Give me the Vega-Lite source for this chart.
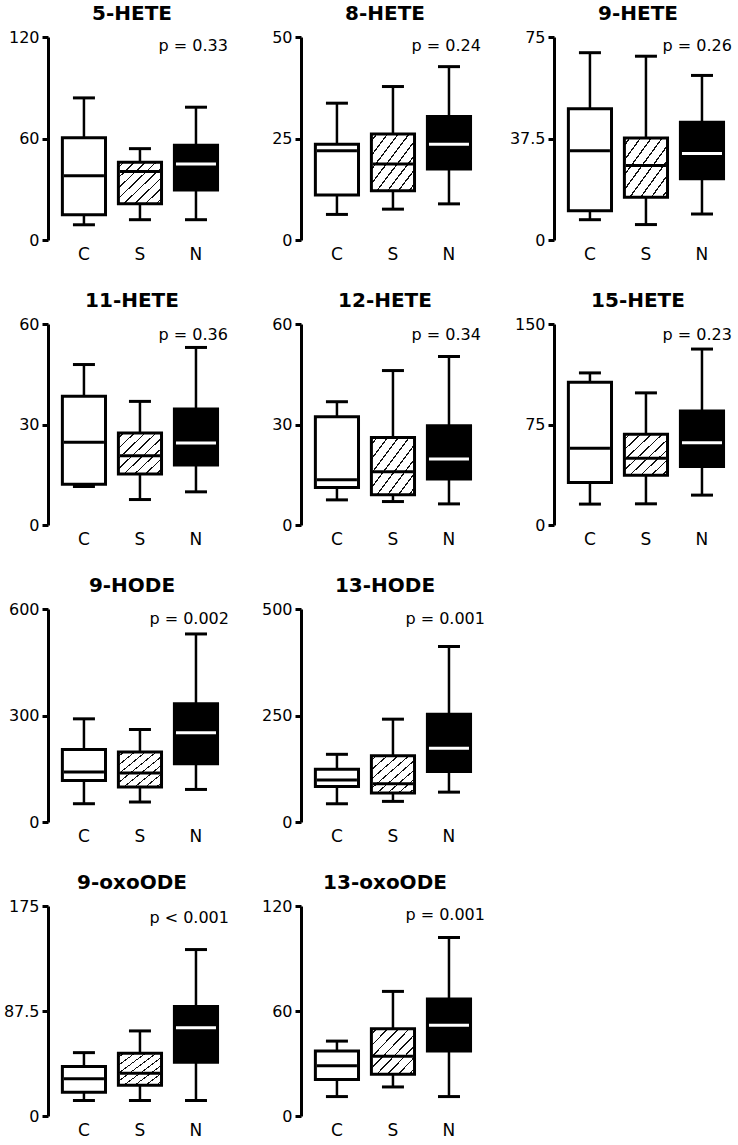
{
"$schema": "https://vega.github.io/schema/vega-lite/v6.json",
"padding": {"left": 3, "top": 4, "right": 0, "bottom": 0},
"background": "white",
"data": {"values": [
{"panel":"5-HETE","g":"C","lo":9,"q1":15,"med":38,"q3":60.5,"hi":84},
{"panel":"5-HETE","g":"S","lo":12,"q1":21.5,"med":40.5,"q3":46,"hi":54},
{"panel":"5-HETE","g":"N","lo":12,"q1":29.5,"med":45,"q3":56,"hi":78.5},
{"panel":"8-HETE","g":"C","lo":6.3,"q1":11.1,"med":22,"q3":23.6,"hi":33.7},
{"panel":"8-HETE","g":"S","lo":7.6,"q1":12.1,"med":18.7,"q3":26.1,"hi":37.8},
{"panel":"8-HETE","g":"N","lo":8.9,"q1":17.5,"med":23.6,"q3":30.4,"hi":42.7},
{"panel":"9-HETE","g":"C","lo":7.5,"q1":10.8,"med":33,"q3":48.5,"hi":69.2},
{"panel":"9-HETE","g":"S","lo":5.7,"q1":15.8,"med":27.5,"q3":37.7,"hi":67.9},
{"panel":"9-HETE","g":"N","lo":9.6,"q1":22.6,"med":32,"q3":43.5,"hi":60.8},
{"panel":"11-HETE","g":"C","lo":11.5,"q1":12.2,"med":24.7,"q3":38.4,"hi":47.9},
{"panel":"11-HETE","g":"S","lo":7.6,"q1":15.2,"med":20.7,"q3":27.5,"hi":36.9},
{"panel":"11-HETE","g":"N","lo":9.9,"q1":17.9,"med":24.5,"q3":34.6,"hi":53},
{"panel":"12-HETE","g":"C","lo":7.5,"q1":11.2,"med":13.5,"q3":32.3,"hi":36.8},
{"panel":"12-HETE","g":"S","lo":7,"q1":9,"med":15.9,"q3":26.1,"hi":46.1},
{"panel":"12-HETE","g":"N","lo":6.3,"q1":13.7,"med":19.7,"q3":29.6,"hi":50.3},
{"panel":"15-HETE","g":"C","lo":15.6,"q1":31.7,"med":57.3,"q3":106.6,"hi":113.5},
{"panel":"15-HETE","g":"S","lo":15.8,"q1":37.2,"med":49.8,"q3":67.7,"hi":98.6},
{"panel":"15-HETE","g":"N","lo":22.3,"q1":43.6,"med":61.4,"q3":85,"hi":131.3},
{"panel":"9-HODE","g":"C","lo":51.5,"q1":117,"med":140.6,"q3":204.2,"hi":290.6},
{"panel":"9-HODE","g":"S","lo":56.3,"q1":98.4,"med":137.8,"q3":196.9,"hi":260.5},
{"panel":"9-HODE","g":"N","lo":91.7,"q1":164,"med":251.2,"q3":332.8,"hi":529.7},
{"panel":"13-HODE","g":"C","lo":42.8,"q1":83.4,"med":98.8,"q3":123.8,"hi":158.9},
{"panel":"13-HODE","g":"S","lo":48.4,"q1":67.8,"med":89.5,"q3":155.8,"hi":241.4},
{"panel":"13-HODE","g":"N","lo":70.1,"q1":118.5,"med":172.9,"q3":253,"hi":412},
{"panel":"9-oxoODE","g":"C","lo":12.9,"q1":19.8,"med":31,"q3":41.2,"hi":52.8},
{"panel":"9-oxoODE","g":"S","lo":12.9,"q1":25.6,"med":35.7,"q3":52.2,"hi":70.9},
{"panel":"9-oxoODE","g":"N","lo":12.9,"q1":44.8,"med":73.6,"q3":91.2,"hi":138.7},
{"panel":"13-oxoODE","g":"C","lo":11.1,"q1":20.9,"med":28.7,"q3":37.2,"hi":42.8},
{"panel":"13-oxoODE","g":"S","lo":16.6,"q1":23.9,"med":34.2,"q3":49.8,"hi":71.2},
{"panel":"13-oxoODE","g":"N","lo":11.1,"q1":37.2,"med":51.8,"q3":66.8,"hi":102}
]},
"spacing": 29,
"vconcat": [
{"bounds": "flush", "spacing": 77, "hconcat": [
{"title": "5-HETE", "width": 176, "height": 203,
 "transform": [{"filter": "datum.panel === '5-HETE'"}],
 "encoding": {"x": {"field": "g", "type": "nominal", "sort": ["C","S","N"], "scale": {"paddingInner": 0.23, "paddingOuter": 0.186, "align": 0.69}, "axis": {"title": null}}},
 "layer": [
  {"mark": {"type": "rule", "color": "black", "strokeWidth": 2.5}, "encoding": {"y": {"field": "lo", "type": "quantitative", "scale": {"domain": [0, 120], "nice": false}, "axis": {"values": [0, 60, 120], "title": null, "labelExpr": "'' + datum.value"}}, "y2": {"field": "hi"}}},
  {"mark": {"type": "bar", "stroke": "black", "strokeWidth": 3}, "encoding": {"y": {"field": "q1", "type": "quantitative"}, "y2": {"field": "q3"}, "fill": {"condition": [{"test": "datum.g === 'C'", "value": "white"}, {"test": "datum.g === 'N'", "value": "black"}], "value": {"gradient":"linear","x1":0,"y1":0,"x2":1,"y2":1,"stops":[{"offset":0,"color":"#fff"},{"offset":0.0535,"color":"#fff"},{"offset":0.0535,"color":"#111"},{"offset":0.0715,"color":"#111"},{"offset":0.0715,"color":"#fff"},{"offset":0.1785,"color":"#fff"},{"offset":0.1785,"color":"#111"},{"offset":0.1965,"color":"#111"},{"offset":0.1965,"color":"#fff"},{"offset":0.3035,"color":"#fff"},{"offset":0.3035,"color":"#111"},{"offset":0.3215,"color":"#111"},{"offset":0.3215,"color":"#fff"},{"offset":0.4285,"color":"#fff"},{"offset":0.4285,"color":"#111"},{"offset":0.4465,"color":"#111"},{"offset":0.4465,"color":"#fff"},{"offset":0.5535,"color":"#fff"},{"offset":0.5535,"color":"#111"},{"offset":0.5715,"color":"#111"},{"offset":0.5715,"color":"#fff"},{"offset":0.6785,"color":"#fff"},{"offset":0.6785,"color":"#111"},{"offset":0.6965,"color":"#111"},{"offset":0.6965,"color":"#fff"},{"offset":0.8035,"color":"#fff"},{"offset":0.8035,"color":"#111"},{"offset":0.8215,"color":"#111"},{"offset":0.8215,"color":"#fff"},{"offset":0.9285,"color":"#fff"},{"offset":0.9285,"color":"#111"},{"offset":0.9465,"color":"#111"},{"offset":0.9465,"color":"#fff"},{"offset":1,"color":"#fff"}]}}}},
  {"mark": {"type": "tick", "size": 40, "thickness": 3, "opacity": 1}, "encoding": {"y": {"field": "med", "type": "quantitative"}, "color": {"condition": {"test": "datum.g === 'N'", "value": "white"}, "value": "black"}}},
  {"mark": {"type": "tick", "size": 22, "thickness": 3, "color": "black", "opacity": 1}, "encoding": {"y": {"field": "lo", "type": "quantitative"}}},
  {"mark": {"type": "tick", "size": 22, "thickness": 3, "color": "black", "opacity": 1}, "encoding": {"y": {"field": "hi", "type": "quantitative"}}},
  {"transform": [{"filter": "datum.g === 'N'"}], "mark": {"type": "text", "text": "p = 0.33", "align": "right", "baseline": "top", "dx": 32, "dy": 1}, "encoding": {"y": {"datum": 120, "type": "quantitative"}}}
 ]},
{"title": "8-HETE", "width": 176, "height": 203,
 "transform": [{"filter": "datum.panel === '8-HETE'"}],
 "encoding": {"x": {"field": "g", "type": "nominal", "sort": ["C","S","N"], "scale": {"paddingInner": 0.23, "paddingOuter": 0.186, "align": 0.69}, "axis": {"title": null}}},
 "layer": [
  {"mark": {"type": "rule", "color": "black", "strokeWidth": 2.5}, "encoding": {"y": {"field": "lo", "type": "quantitative", "scale": {"domain": [0, 50], "nice": false}, "axis": {"values": [0, 25, 50], "title": null, "labelExpr": "'' + datum.value"}}, "y2": {"field": "hi"}}},
  {"mark": {"type": "bar", "stroke": "black", "strokeWidth": 3}, "encoding": {"y": {"field": "q1", "type": "quantitative"}, "y2": {"field": "q3"}, "fill": {"condition": [{"test": "datum.g === 'C'", "value": "white"}, {"test": "datum.g === 'N'", "value": "black"}], "value": {"gradient":"linear","x1":0,"y1":0,"x2":1,"y2":1,"stops":[{"offset":0,"color":"#fff"},{"offset":0.0535,"color":"#fff"},{"offset":0.0535,"color":"#111"},{"offset":0.0715,"color":"#111"},{"offset":0.0715,"color":"#fff"},{"offset":0.1785,"color":"#fff"},{"offset":0.1785,"color":"#111"},{"offset":0.1965,"color":"#111"},{"offset":0.1965,"color":"#fff"},{"offset":0.3035,"color":"#fff"},{"offset":0.3035,"color":"#111"},{"offset":0.3215,"color":"#111"},{"offset":0.3215,"color":"#fff"},{"offset":0.4285,"color":"#fff"},{"offset":0.4285,"color":"#111"},{"offset":0.4465,"color":"#111"},{"offset":0.4465,"color":"#fff"},{"offset":0.5535,"color":"#fff"},{"offset":0.5535,"color":"#111"},{"offset":0.5715,"color":"#111"},{"offset":0.5715,"color":"#fff"},{"offset":0.6785,"color":"#fff"},{"offset":0.6785,"color":"#111"},{"offset":0.6965,"color":"#111"},{"offset":0.6965,"color":"#fff"},{"offset":0.8035,"color":"#fff"},{"offset":0.8035,"color":"#111"},{"offset":0.8215,"color":"#111"},{"offset":0.8215,"color":"#fff"},{"offset":0.9285,"color":"#fff"},{"offset":0.9285,"color":"#111"},{"offset":0.9465,"color":"#111"},{"offset":0.9465,"color":"#fff"},{"offset":1,"color":"#fff"}]}}}},
  {"mark": {"type": "tick", "size": 40, "thickness": 3, "opacity": 1}, "encoding": {"y": {"field": "med", "type": "quantitative"}, "color": {"condition": {"test": "datum.g === 'N'", "value": "white"}, "value": "black"}}},
  {"mark": {"type": "tick", "size": 22, "thickness": 3, "color": "black", "opacity": 1}, "encoding": {"y": {"field": "lo", "type": "quantitative"}}},
  {"mark": {"type": "tick", "size": 22, "thickness": 3, "color": "black", "opacity": 1}, "encoding": {"y": {"field": "hi", "type": "quantitative"}}},
  {"transform": [{"filter": "datum.g === 'N'"}], "mark": {"type": "text", "text": "p = 0.24", "align": "right", "baseline": "top", "dx": 32, "dy": 1}, "encoding": {"y": {"datum": 50, "type": "quantitative"}}}
 ]},
{"title": "9-HETE", "width": 176, "height": 203,
 "transform": [{"filter": "datum.panel === '9-HETE'"}],
 "encoding": {"x": {"field": "g", "type": "nominal", "sort": ["C","S","N"], "scale": {"paddingInner": 0.23, "paddingOuter": 0.186, "align": 0.69}, "axis": {"title": null}}},
 "layer": [
  {"mark": {"type": "rule", "color": "black", "strokeWidth": 2.5}, "encoding": {"y": {"field": "lo", "type": "quantitative", "scale": {"domain": [0, 75], "nice": false}, "axis": {"values": [0, 37.5, 75], "title": null, "labelExpr": "'' + datum.value"}}, "y2": {"field": "hi"}}},
  {"mark": {"type": "bar", "stroke": "black", "strokeWidth": 3}, "encoding": {"y": {"field": "q1", "type": "quantitative"}, "y2": {"field": "q3"}, "fill": {"condition": [{"test": "datum.g === 'C'", "value": "white"}, {"test": "datum.g === 'N'", "value": "black"}], "value": {"gradient":"linear","x1":0,"y1":0,"x2":1,"y2":1,"stops":[{"offset":0,"color":"#fff"},{"offset":0.0535,"color":"#fff"},{"offset":0.0535,"color":"#111"},{"offset":0.0715,"color":"#111"},{"offset":0.0715,"color":"#fff"},{"offset":0.1785,"color":"#fff"},{"offset":0.1785,"color":"#111"},{"offset":0.1965,"color":"#111"},{"offset":0.1965,"color":"#fff"},{"offset":0.3035,"color":"#fff"},{"offset":0.3035,"color":"#111"},{"offset":0.3215,"color":"#111"},{"offset":0.3215,"color":"#fff"},{"offset":0.4285,"color":"#fff"},{"offset":0.4285,"color":"#111"},{"offset":0.4465,"color":"#111"},{"offset":0.4465,"color":"#fff"},{"offset":0.5535,"color":"#fff"},{"offset":0.5535,"color":"#111"},{"offset":0.5715,"color":"#111"},{"offset":0.5715,"color":"#fff"},{"offset":0.6785,"color":"#fff"},{"offset":0.6785,"color":"#111"},{"offset":0.6965,"color":"#111"},{"offset":0.6965,"color":"#fff"},{"offset":0.8035,"color":"#fff"},{"offset":0.8035,"color":"#111"},{"offset":0.8215,"color":"#111"},{"offset":0.8215,"color":"#fff"},{"offset":0.9285,"color":"#fff"},{"offset":0.9285,"color":"#111"},{"offset":0.9465,"color":"#111"},{"offset":0.9465,"color":"#fff"},{"offset":1,"color":"#fff"}]}}}},
  {"mark": {"type": "tick", "size": 40, "thickness": 3, "opacity": 1}, "encoding": {"y": {"field": "med", "type": "quantitative"}, "color": {"condition": {"test": "datum.g === 'N'", "value": "white"}, "value": "black"}}},
  {"mark": {"type": "tick", "size": 22, "thickness": 3, "color": "black", "opacity": 1}, "encoding": {"y": {"field": "lo", "type": "quantitative"}}},
  {"mark": {"type": "tick", "size": 22, "thickness": 3, "color": "black", "opacity": 1}, "encoding": {"y": {"field": "hi", "type": "quantitative"}}},
  {"transform": [{"filter": "datum.g === 'N'"}], "mark": {"type": "text", "text": "p = 0.26", "align": "right", "baseline": "top", "dx": 30, "dy": 1}, "encoding": {"y": {"datum": 75, "type": "quantitative"}}}
 ]}
]},
{"bounds": "flush", "spacing": 77, "hconcat": [
{"title": "11-HETE", "width": 176, "height": 201,
 "transform": [{"filter": "datum.panel === '11-HETE'"}],
 "encoding": {"x": {"field": "g", "type": "nominal", "sort": ["C","S","N"], "scale": {"paddingInner": 0.23, "paddingOuter": 0.186, "align": 0.69}, "axis": {"title": null}}},
 "layer": [
  {"mark": {"type": "rule", "color": "black", "strokeWidth": 2.5}, "encoding": {"y": {"field": "lo", "type": "quantitative", "scale": {"domain": [0, 60], "nice": false}, "axis": {"values": [0, 30, 60], "title": null, "labelExpr": "'' + datum.value"}}, "y2": {"field": "hi"}}},
  {"mark": {"type": "bar", "stroke": "black", "strokeWidth": 3}, "encoding": {"y": {"field": "q1", "type": "quantitative"}, "y2": {"field": "q3"}, "fill": {"condition": [{"test": "datum.g === 'C'", "value": "white"}, {"test": "datum.g === 'N'", "value": "black"}], "value": {"gradient":"linear","x1":0,"y1":0,"x2":1,"y2":1,"stops":[{"offset":0,"color":"#fff"},{"offset":0.0535,"color":"#fff"},{"offset":0.0535,"color":"#111"},{"offset":0.0715,"color":"#111"},{"offset":0.0715,"color":"#fff"},{"offset":0.1785,"color":"#fff"},{"offset":0.1785,"color":"#111"},{"offset":0.1965,"color":"#111"},{"offset":0.1965,"color":"#fff"},{"offset":0.3035,"color":"#fff"},{"offset":0.3035,"color":"#111"},{"offset":0.3215,"color":"#111"},{"offset":0.3215,"color":"#fff"},{"offset":0.4285,"color":"#fff"},{"offset":0.4285,"color":"#111"},{"offset":0.4465,"color":"#111"},{"offset":0.4465,"color":"#fff"},{"offset":0.5535,"color":"#fff"},{"offset":0.5535,"color":"#111"},{"offset":0.5715,"color":"#111"},{"offset":0.5715,"color":"#fff"},{"offset":0.6785,"color":"#fff"},{"offset":0.6785,"color":"#111"},{"offset":0.6965,"color":"#111"},{"offset":0.6965,"color":"#fff"},{"offset":0.8035,"color":"#fff"},{"offset":0.8035,"color":"#111"},{"offset":0.8215,"color":"#111"},{"offset":0.8215,"color":"#fff"},{"offset":0.9285,"color":"#fff"},{"offset":0.9285,"color":"#111"},{"offset":0.9465,"color":"#111"},{"offset":0.9465,"color":"#fff"},{"offset":1,"color":"#fff"}]}}}},
  {"mark": {"type": "tick", "size": 40, "thickness": 3, "opacity": 1}, "encoding": {"y": {"field": "med", "type": "quantitative"}, "color": {"condition": {"test": "datum.g === 'N'", "value": "white"}, "value": "black"}}},
  {"mark": {"type": "tick", "size": 22, "thickness": 3, "color": "black", "opacity": 1}, "encoding": {"y": {"field": "lo", "type": "quantitative"}}},
  {"mark": {"type": "tick", "size": 22, "thickness": 3, "color": "black", "opacity": 1}, "encoding": {"y": {"field": "hi", "type": "quantitative"}}},
  {"transform": [{"filter": "datum.g === 'N'"}], "mark": {"type": "text", "text": "p = 0.36", "align": "right", "baseline": "top", "dx": 32, "dy": 3}, "encoding": {"y": {"datum": 60, "type": "quantitative"}}}
 ]},
{"title": "12-HETE", "width": 176, "height": 201,
 "transform": [{"filter": "datum.panel === '12-HETE'"}],
 "encoding": {"x": {"field": "g", "type": "nominal", "sort": ["C","S","N"], "scale": {"paddingInner": 0.23, "paddingOuter": 0.186, "align": 0.69}, "axis": {"title": null}}},
 "layer": [
  {"mark": {"type": "rule", "color": "black", "strokeWidth": 2.5}, "encoding": {"y": {"field": "lo", "type": "quantitative", "scale": {"domain": [0, 60], "nice": false}, "axis": {"values": [0, 30, 60], "title": null, "labelExpr": "'' + datum.value"}}, "y2": {"field": "hi"}}},
  {"mark": {"type": "bar", "stroke": "black", "strokeWidth": 3}, "encoding": {"y": {"field": "q1", "type": "quantitative"}, "y2": {"field": "q3"}, "fill": {"condition": [{"test": "datum.g === 'C'", "value": "white"}, {"test": "datum.g === 'N'", "value": "black"}], "value": {"gradient":"linear","x1":0,"y1":0,"x2":1,"y2":1,"stops":[{"offset":0,"color":"#fff"},{"offset":0.0535,"color":"#fff"},{"offset":0.0535,"color":"#111"},{"offset":0.0715,"color":"#111"},{"offset":0.0715,"color":"#fff"},{"offset":0.1785,"color":"#fff"},{"offset":0.1785,"color":"#111"},{"offset":0.1965,"color":"#111"},{"offset":0.1965,"color":"#fff"},{"offset":0.3035,"color":"#fff"},{"offset":0.3035,"color":"#111"},{"offset":0.3215,"color":"#111"},{"offset":0.3215,"color":"#fff"},{"offset":0.4285,"color":"#fff"},{"offset":0.4285,"color":"#111"},{"offset":0.4465,"color":"#111"},{"offset":0.4465,"color":"#fff"},{"offset":0.5535,"color":"#fff"},{"offset":0.5535,"color":"#111"},{"offset":0.5715,"color":"#111"},{"offset":0.5715,"color":"#fff"},{"offset":0.6785,"color":"#fff"},{"offset":0.6785,"color":"#111"},{"offset":0.6965,"color":"#111"},{"offset":0.6965,"color":"#fff"},{"offset":0.8035,"color":"#fff"},{"offset":0.8035,"color":"#111"},{"offset":0.8215,"color":"#111"},{"offset":0.8215,"color":"#fff"},{"offset":0.9285,"color":"#fff"},{"offset":0.9285,"color":"#111"},{"offset":0.9465,"color":"#111"},{"offset":0.9465,"color":"#fff"},{"offset":1,"color":"#fff"}]}}}},
  {"mark": {"type": "tick", "size": 40, "thickness": 3, "opacity": 1}, "encoding": {"y": {"field": "med", "type": "quantitative"}, "color": {"condition": {"test": "datum.g === 'N'", "value": "white"}, "value": "black"}}},
  {"mark": {"type": "tick", "size": 22, "thickness": 3, "color": "black", "opacity": 1}, "encoding": {"y": {"field": "lo", "type": "quantitative"}}},
  {"mark": {"type": "tick", "size": 22, "thickness": 3, "color": "black", "opacity": 1}, "encoding": {"y": {"field": "hi", "type": "quantitative"}}},
  {"transform": [{"filter": "datum.g === 'N'"}], "mark": {"type": "text", "text": "p = 0.34", "align": "right", "baseline": "top", "dx": 32, "dy": 3}, "encoding": {"y": {"datum": 60, "type": "quantitative"}}}
 ]},
{"title": "15-HETE", "width": 176, "height": 201,
 "transform": [{"filter": "datum.panel === '15-HETE'"}],
 "encoding": {"x": {"field": "g", "type": "nominal", "sort": ["C","S","N"], "scale": {"paddingInner": 0.23, "paddingOuter": 0.186, "align": 0.69}, "axis": {"title": null}}},
 "layer": [
  {"mark": {"type": "rule", "color": "black", "strokeWidth": 2.5}, "encoding": {"y": {"field": "lo", "type": "quantitative", "scale": {"domain": [0, 150], "nice": false}, "axis": {"values": [0, 75, 150], "title": null, "labelExpr": "'' + datum.value"}}, "y2": {"field": "hi"}}},
  {"mark": {"type": "bar", "stroke": "black", "strokeWidth": 3}, "encoding": {"y": {"field": "q1", "type": "quantitative"}, "y2": {"field": "q3"}, "fill": {"condition": [{"test": "datum.g === 'C'", "value": "white"}, {"test": "datum.g === 'N'", "value": "black"}], "value": {"gradient":"linear","x1":0,"y1":0,"x2":1,"y2":1,"stops":[{"offset":0,"color":"#fff"},{"offset":0.0535,"color":"#fff"},{"offset":0.0535,"color":"#111"},{"offset":0.0715,"color":"#111"},{"offset":0.0715,"color":"#fff"},{"offset":0.1785,"color":"#fff"},{"offset":0.1785,"color":"#111"},{"offset":0.1965,"color":"#111"},{"offset":0.1965,"color":"#fff"},{"offset":0.3035,"color":"#fff"},{"offset":0.3035,"color":"#111"},{"offset":0.3215,"color":"#111"},{"offset":0.3215,"color":"#fff"},{"offset":0.4285,"color":"#fff"},{"offset":0.4285,"color":"#111"},{"offset":0.4465,"color":"#111"},{"offset":0.4465,"color":"#fff"},{"offset":0.5535,"color":"#fff"},{"offset":0.5535,"color":"#111"},{"offset":0.5715,"color":"#111"},{"offset":0.5715,"color":"#fff"},{"offset":0.6785,"color":"#fff"},{"offset":0.6785,"color":"#111"},{"offset":0.6965,"color":"#111"},{"offset":0.6965,"color":"#fff"},{"offset":0.8035,"color":"#fff"},{"offset":0.8035,"color":"#111"},{"offset":0.8215,"color":"#111"},{"offset":0.8215,"color":"#fff"},{"offset":0.9285,"color":"#fff"},{"offset":0.9285,"color":"#111"},{"offset":0.9465,"color":"#111"},{"offset":0.9465,"color":"#fff"},{"offset":1,"color":"#fff"}]}}}},
  {"mark": {"type": "tick", "size": 40, "thickness": 3, "opacity": 1}, "encoding": {"y": {"field": "med", "type": "quantitative"}, "color": {"condition": {"test": "datum.g === 'N'", "value": "white"}, "value": "black"}}},
  {"mark": {"type": "tick", "size": 22, "thickness": 3, "color": "black", "opacity": 1}, "encoding": {"y": {"field": "lo", "type": "quantitative"}}},
  {"mark": {"type": "tick", "size": 22, "thickness": 3, "color": "black", "opacity": 1}, "encoding": {"y": {"field": "hi", "type": "quantitative"}}},
  {"transform": [{"filter": "datum.g === 'N'"}], "mark": {"type": "text", "text": "p = 0.23", "align": "right", "baseline": "top", "dx": 30, "dy": 3}, "encoding": {"y": {"datum": 150, "type": "quantitative"}}}
 ]}
]},
{"bounds": "flush", "spacing": 77, "hconcat": [
{"title": "9-HODE", "width": 176, "height": 213,
 "transform": [{"filter": "datum.panel === '9-HODE'"}],
 "encoding": {"x": {"field": "g", "type": "nominal", "sort": ["C","S","N"], "scale": {"paddingInner": 0.23, "paddingOuter": 0.186, "align": 0.69}, "axis": {"title": null}}},
 "layer": [
  {"mark": {"type": "rule", "color": "black", "strokeWidth": 2.5}, "encoding": {"y": {"field": "lo", "type": "quantitative", "scale": {"domain": [0, 600], "nice": false}, "axis": {"values": [0, 300, 600], "title": null, "labelExpr": "'' + datum.value"}}, "y2": {"field": "hi"}}},
  {"mark": {"type": "bar", "stroke": "black", "strokeWidth": 3}, "encoding": {"y": {"field": "q1", "type": "quantitative"}, "y2": {"field": "q3"}, "fill": {"condition": [{"test": "datum.g === 'C'", "value": "white"}, {"test": "datum.g === 'N'", "value": "black"}], "value": {"gradient":"linear","x1":0,"y1":0,"x2":1,"y2":1,"stops":[{"offset":0,"color":"#fff"},{"offset":0.0535,"color":"#fff"},{"offset":0.0535,"color":"#111"},{"offset":0.0715,"color":"#111"},{"offset":0.0715,"color":"#fff"},{"offset":0.1785,"color":"#fff"},{"offset":0.1785,"color":"#111"},{"offset":0.1965,"color":"#111"},{"offset":0.1965,"color":"#fff"},{"offset":0.3035,"color":"#fff"},{"offset":0.3035,"color":"#111"},{"offset":0.3215,"color":"#111"},{"offset":0.3215,"color":"#fff"},{"offset":0.4285,"color":"#fff"},{"offset":0.4285,"color":"#111"},{"offset":0.4465,"color":"#111"},{"offset":0.4465,"color":"#fff"},{"offset":0.5535,"color":"#fff"},{"offset":0.5535,"color":"#111"},{"offset":0.5715,"color":"#111"},{"offset":0.5715,"color":"#fff"},{"offset":0.6785,"color":"#fff"},{"offset":0.6785,"color":"#111"},{"offset":0.6965,"color":"#111"},{"offset":0.6965,"color":"#fff"},{"offset":0.8035,"color":"#fff"},{"offset":0.8035,"color":"#111"},{"offset":0.8215,"color":"#111"},{"offset":0.8215,"color":"#fff"},{"offset":0.9285,"color":"#fff"},{"offset":0.9285,"color":"#111"},{"offset":0.9465,"color":"#111"},{"offset":0.9465,"color":"#fff"},{"offset":1,"color":"#fff"}]}}}},
  {"mark": {"type": "tick", "size": 40, "thickness": 3, "opacity": 1}, "encoding": {"y": {"field": "med", "type": "quantitative"}, "color": {"condition": {"test": "datum.g === 'N'", "value": "white"}, "value": "black"}}},
  {"mark": {"type": "tick", "size": 22, "thickness": 3, "color": "black", "opacity": 1}, "encoding": {"y": {"field": "lo", "type": "quantitative"}}},
  {"mark": {"type": "tick", "size": 22, "thickness": 3, "color": "black", "opacity": 1}, "encoding": {"y": {"field": "hi", "type": "quantitative"}}},
  {"transform": [{"filter": "datum.g === 'N'"}], "mark": {"type": "text", "text": "p = 0.002", "align": "right", "baseline": "top", "dx": 33, "dy": 2}, "encoding": {"y": {"datum": 600, "type": "quantitative"}}}
 ]},
{"title": "13-HODE", "width": 176, "height": 213,
 "transform": [{"filter": "datum.panel === '13-HODE'"}],
 "encoding": {"x": {"field": "g", "type": "nominal", "sort": ["C","S","N"], "scale": {"paddingInner": 0.23, "paddingOuter": 0.186, "align": 0.69}, "axis": {"title": null}}},
 "layer": [
  {"mark": {"type": "rule", "color": "black", "strokeWidth": 2.5}, "encoding": {"y": {"field": "lo", "type": "quantitative", "scale": {"domain": [0, 500], "nice": false}, "axis": {"values": [0, 250, 500], "title": null, "labelExpr": "'' + datum.value"}}, "y2": {"field": "hi"}}},
  {"mark": {"type": "bar", "stroke": "black", "strokeWidth": 3}, "encoding": {"y": {"field": "q1", "type": "quantitative"}, "y2": {"field": "q3"}, "fill": {"condition": [{"test": "datum.g === 'C'", "value": "white"}, {"test": "datum.g === 'N'", "value": "black"}], "value": {"gradient":"linear","x1":0,"y1":0,"x2":1,"y2":1,"stops":[{"offset":0,"color":"#fff"},{"offset":0.0535,"color":"#fff"},{"offset":0.0535,"color":"#111"},{"offset":0.0715,"color":"#111"},{"offset":0.0715,"color":"#fff"},{"offset":0.1785,"color":"#fff"},{"offset":0.1785,"color":"#111"},{"offset":0.1965,"color":"#111"},{"offset":0.1965,"color":"#fff"},{"offset":0.3035,"color":"#fff"},{"offset":0.3035,"color":"#111"},{"offset":0.3215,"color":"#111"},{"offset":0.3215,"color":"#fff"},{"offset":0.4285,"color":"#fff"},{"offset":0.4285,"color":"#111"},{"offset":0.4465,"color":"#111"},{"offset":0.4465,"color":"#fff"},{"offset":0.5535,"color":"#fff"},{"offset":0.5535,"color":"#111"},{"offset":0.5715,"color":"#111"},{"offset":0.5715,"color":"#fff"},{"offset":0.6785,"color":"#fff"},{"offset":0.6785,"color":"#111"},{"offset":0.6965,"color":"#111"},{"offset":0.6965,"color":"#fff"},{"offset":0.8035,"color":"#fff"},{"offset":0.8035,"color":"#111"},{"offset":0.8215,"color":"#111"},{"offset":0.8215,"color":"#fff"},{"offset":0.9285,"color":"#fff"},{"offset":0.9285,"color":"#111"},{"offset":0.9465,"color":"#111"},{"offset":0.9465,"color":"#fff"},{"offset":1,"color":"#fff"}]}}}},
  {"mark": {"type": "tick", "size": 40, "thickness": 3, "opacity": 1}, "encoding": {"y": {"field": "med", "type": "quantitative"}, "color": {"condition": {"test": "datum.g === 'N'", "value": "white"}, "value": "black"}}},
  {"mark": {"type": "tick", "size": 22, "thickness": 3, "color": "black", "opacity": 1}, "encoding": {"y": {"field": "lo", "type": "quantitative"}}},
  {"mark": {"type": "tick", "size": 22, "thickness": 3, "color": "black", "opacity": 1}, "encoding": {"y": {"field": "hi", "type": "quantitative"}}},
  {"transform": [{"filter": "datum.g === 'N'"}], "mark": {"type": "text", "text": "p = 0.001", "align": "right", "baseline": "top", "dx": 36, "dy": 2}, "encoding": {"y": {"datum": 500, "type": "quantitative"}}}
 ]}
]},
{"bounds": "flush", "spacing": 77, "hconcat": [
{"title": "9-oxoODE", "width": 176, "height": 210,
 "transform": [{"filter": "datum.panel === '9-oxoODE'"}],
 "encoding": {"x": {"field": "g", "type": "nominal", "sort": ["C","S","N"], "scale": {"paddingInner": 0.23, "paddingOuter": 0.186, "align": 0.69}, "axis": {"title": null}}},
 "layer": [
  {"mark": {"type": "rule", "color": "black", "strokeWidth": 2.5}, "encoding": {"y": {"field": "lo", "type": "quantitative", "scale": {"domain": [0, 175], "nice": false}, "axis": {"values": [0, 87.5, 175], "title": null, "labelExpr": "'' + datum.value"}}, "y2": {"field": "hi"}}},
  {"mark": {"type": "bar", "stroke": "black", "strokeWidth": 3}, "encoding": {"y": {"field": "q1", "type": "quantitative"}, "y2": {"field": "q3"}, "fill": {"condition": [{"test": "datum.g === 'C'", "value": "white"}, {"test": "datum.g === 'N'", "value": "black"}], "value": {"gradient":"linear","x1":0,"y1":0,"x2":1,"y2":1,"stops":[{"offset":0,"color":"#fff"},{"offset":0.0535,"color":"#fff"},{"offset":0.0535,"color":"#111"},{"offset":0.0715,"color":"#111"},{"offset":0.0715,"color":"#fff"},{"offset":0.1785,"color":"#fff"},{"offset":0.1785,"color":"#111"},{"offset":0.1965,"color":"#111"},{"offset":0.1965,"color":"#fff"},{"offset":0.3035,"color":"#fff"},{"offset":0.3035,"color":"#111"},{"offset":0.3215,"color":"#111"},{"offset":0.3215,"color":"#fff"},{"offset":0.4285,"color":"#fff"},{"offset":0.4285,"color":"#111"},{"offset":0.4465,"color":"#111"},{"offset":0.4465,"color":"#fff"},{"offset":0.5535,"color":"#fff"},{"offset":0.5535,"color":"#111"},{"offset":0.5715,"color":"#111"},{"offset":0.5715,"color":"#fff"},{"offset":0.6785,"color":"#fff"},{"offset":0.6785,"color":"#111"},{"offset":0.6965,"color":"#111"},{"offset":0.6965,"color":"#fff"},{"offset":0.8035,"color":"#fff"},{"offset":0.8035,"color":"#111"},{"offset":0.8215,"color":"#111"},{"offset":0.8215,"color":"#fff"},{"offset":0.9285,"color":"#fff"},{"offset":0.9285,"color":"#111"},{"offset":0.9465,"color":"#111"},{"offset":0.9465,"color":"#fff"},{"offset":1,"color":"#fff"}]}}}},
  {"mark": {"type": "tick", "size": 40, "thickness": 3, "opacity": 1}, "encoding": {"y": {"field": "med", "type": "quantitative"}, "color": {"condition": {"test": "datum.g === 'N'", "value": "white"}, "value": "black"}}},
  {"mark": {"type": "tick", "size": 22, "thickness": 3, "color": "black", "opacity": 1}, "encoding": {"y": {"field": "lo", "type": "quantitative"}}},
  {"mark": {"type": "tick", "size": 22, "thickness": 3, "color": "black", "opacity": 1}, "encoding": {"y": {"field": "hi", "type": "quantitative"}}},
  {"transform": [{"filter": "datum.g === 'N'"}], "mark": {"type": "text", "text": "p < 0.001", "align": "right", "baseline": "top", "dx": 33, "dy": 4}, "encoding": {"y": {"datum": 175, "type": "quantitative"}}}
 ]},
{"title": "13-oxoODE", "width": 176, "height": 210,
 "transform": [{"filter": "datum.panel === '13-oxoODE'"}],
 "encoding": {"x": {"field": "g", "type": "nominal", "sort": ["C","S","N"], "scale": {"paddingInner": 0.23, "paddingOuter": 0.186, "align": 0.69}, "axis": {"title": null}}},
 "layer": [
  {"mark": {"type": "rule", "color": "black", "strokeWidth": 2.5}, "encoding": {"y": {"field": "lo", "type": "quantitative", "scale": {"domain": [0, 120], "nice": false}, "axis": {"values": [0, 60, 120], "title": null, "labelExpr": "'' + datum.value"}}, "y2": {"field": "hi"}}},
  {"mark": {"type": "bar", "stroke": "black", "strokeWidth": 3}, "encoding": {"y": {"field": "q1", "type": "quantitative"}, "y2": {"field": "q3"}, "fill": {"condition": [{"test": "datum.g === 'C'", "value": "white"}, {"test": "datum.g === 'N'", "value": "black"}], "value": {"gradient":"linear","x1":0,"y1":0,"x2":1,"y2":1,"stops":[{"offset":0,"color":"#fff"},{"offset":0.0535,"color":"#fff"},{"offset":0.0535,"color":"#111"},{"offset":0.0715,"color":"#111"},{"offset":0.0715,"color":"#fff"},{"offset":0.1785,"color":"#fff"},{"offset":0.1785,"color":"#111"},{"offset":0.1965,"color":"#111"},{"offset":0.1965,"color":"#fff"},{"offset":0.3035,"color":"#fff"},{"offset":0.3035,"color":"#111"},{"offset":0.3215,"color":"#111"},{"offset":0.3215,"color":"#fff"},{"offset":0.4285,"color":"#fff"},{"offset":0.4285,"color":"#111"},{"offset":0.4465,"color":"#111"},{"offset":0.4465,"color":"#fff"},{"offset":0.5535,"color":"#fff"},{"offset":0.5535,"color":"#111"},{"offset":0.5715,"color":"#111"},{"offset":0.5715,"color":"#fff"},{"offset":0.6785,"color":"#fff"},{"offset":0.6785,"color":"#111"},{"offset":0.6965,"color":"#111"},{"offset":0.6965,"color":"#fff"},{"offset":0.8035,"color":"#fff"},{"offset":0.8035,"color":"#111"},{"offset":0.8215,"color":"#111"},{"offset":0.8215,"color":"#fff"},{"offset":0.9285,"color":"#fff"},{"offset":0.9285,"color":"#111"},{"offset":0.9465,"color":"#111"},{"offset":0.9465,"color":"#fff"},{"offset":1,"color":"#fff"}]}}}},
  {"mark": {"type": "tick", "size": 40, "thickness": 3, "opacity": 1}, "encoding": {"y": {"field": "med", "type": "quantitative"}, "color": {"condition": {"test": "datum.g === 'N'", "value": "white"}, "value": "black"}}},
  {"mark": {"type": "tick", "size": 22, "thickness": 3, "color": "black", "opacity": 1}, "encoding": {"y": {"field": "lo", "type": "quantitative"}}},
  {"mark": {"type": "tick", "size": 22, "thickness": 3, "color": "black", "opacity": 1}, "encoding": {"y": {"field": "hi", "type": "quantitative"}}},
  {"transform": [{"filter": "datum.g === 'N'"}], "mark": {"type": "text", "text": "p = 0.001", "align": "right", "baseline": "top", "dx": 36, "dy": 1}, "encoding": {"y": {"datum": 120, "type": "quantitative"}}}
 ]}
]}
],
"config": {
 "font": "DejaVu Sans",
 "view": {"stroke": null},
 "title": {"font": "DejaVu Sans", "fontSize": 20, "fontWeight": "bold", "color": "black", "dx": -4, "offset": 5, "anchor": "middle"},
 "axisY": {"domain": true, "domainColor": "black", "domainWidth": 3, "ticks": true, "tickColor": "black", "tickWidth": 3, "tickSize": 6, "labelFont": "DejaVu Sans", "labelFontSize": 16, "labelColor": "black", "labelPadding": 3, "grid": false},
 "axisX": {"domain": false, "ticks": false, "tickSize": 0, "labelFont": "DejaVu Sans", "labelFontSize": 17, "labelColor": "black", "labelPadding": 6, "labelAngle": 0, "grid": false},
 "text": {"font": "DejaVu Sans", "fontSize": 16, "color": "black"}
}
}
